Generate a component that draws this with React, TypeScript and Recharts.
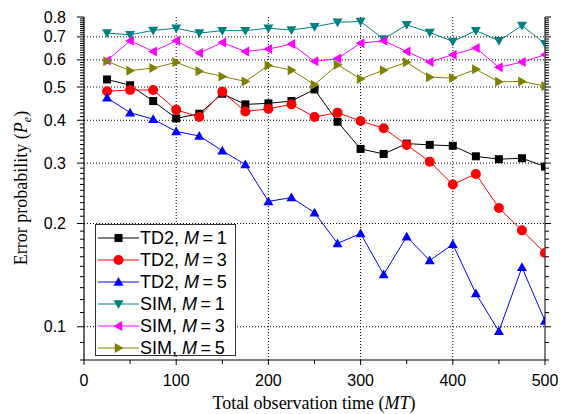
import React from 'react';
import { LineChart, Line, XAxis, YAxis, ReferenceLine, Legend } from 'recharts';

const xs = [25, 50, 75, 100, 125, 150, 175, 200, 225, 250, 275, 300, 325, 350, 375, 400, 425, 450, 475, 500];
const td2M1 = [0.526, 0.506, 0.455, 0.405, 0.418, 0.478, 0.445, 0.448, 0.455, 0.492, 0.396, 0.330, 0.319, 0.342, 0.339, 0.337, 0.314, 0.308, 0.310, 0.293];
const td2M3 = [0.486, 0.490, 0.490, 0.429, 0.409, 0.484, 0.424, 0.432, 0.445, 0.409, 0.421, 0.398, 0.379, 0.339, 0.303, 0.260, 0.279, 0.222, 0.191, 0.164];
const td2M5 = [0.465, 0.421, 0.403, 0.371, 0.360, 0.326, 0.297, 0.232, 0.238, 0.215, 0.175, 0.187, 0.142, 0.183, 0.156, 0.174, 0.125, 0.097, 0.149, 0.104];
const simM1 = [0.718, 0.710, 0.731, 0.742, 0.718, 0.730, 0.730, 0.742, 0.733, 0.749, 0.772, 0.776, 0.690, 0.759, 0.721, 0.679, 0.730, 0.682, 0.755, 0.669];
const simM3 = [0.597, 0.682, 0.635, 0.682, 0.628, 0.674, 0.635, 0.645, 0.667, 0.594, 0.605, 0.671, 0.682, 0.635, 0.591, 0.621, 0.650, 0.571, 0.591, 0.621];
const simM5 = [0.594, 0.558, 0.568, 0.590, 0.556, 0.537, 0.519, 0.578, 0.560, 0.508, 0.581, 0.528, 0.560, 0.590, 0.534, 0.531, 0.563, 0.518, 0.519, 0.503];

const xTicks = [0, 50, 100, 150, 200, 250, 300, 350, 400, 450, 500];
const xMajor = [0, 100, 200, 300, 400, 500];
const xGrid = [100, 200, 300, 400];
const yMajor = [0.1, 0.2, 0.3, 0.4, 0.5, 0.6, 0.7, 0.8];
const yGrid = [0.1, 0.2, 0.3, 0.4, 0.5, 0.6, 0.7];
const yTicks: number[] = [];
for (let i = 8; i <= 80; i++) yTicks.push(i / 100);

type Shape = 'square' | 'circle' | 'up' | 'down' | 'left' | 'right';
const series: { key: string; label: string; m: string; color: string; shape: Shape; values: number[] }[] = [
  { key: 'td1', label: 'TD2, ', m: '1', color: '#000000', shape: 'square', values: td2M1 },
  { key: 'td3', label: 'TD2, ', m: '3', color: '#ff0000', shape: 'circle', values: td2M3 },
  { key: 'td5', label: 'TD2, ', m: '5', color: '#0000ff', shape: 'up', values: td2M5 },
  { key: 'sim1', label: 'SIM, ', m: '1', color: '#008080', shape: 'down', values: simM1 },
  { key: 'sim3', label: 'SIM, ', m: '3', color: '#ff00ff', shape: 'left', values: simM3 },
  { key: 'sim5', label: 'SIM, ', m: '5', color: '#808000', shape: 'right', values: simM5 },
];

const data = xs.map((x, i) => {
  const row: Record<string, number> = { x };
  series.forEach((s) => (row[s.key] = s.values[i]));
  return row;
});

function Marker({ cx, cy, shape, color }: { cx: number; cy: number; shape: Shape; color: string }) {
  if (cx == null || cy == null || isNaN(cx) || isNaN(cy)) return null;
  const s = 5;
  switch (shape) {
    case 'square':
      return <rect x={cx - 4} y={cy - 4} width={8} height={8} fill={color} />;
    case 'circle':
      return <circle cx={cx} cy={cy} r={5} fill={color} />;
    case 'up':
      return <polygon points={`${cx},${cy - s} ${cx - s},${cy + s * 0.75} ${cx + s},${cy + s * 0.75}`} fill={color} />;
    case 'down':
      return <polygon points={`${cx},${cy + s} ${cx - s},${cy - s * 0.75} ${cx + s},${cy - s * 0.75}`} fill={color} />;
    case 'left':
      return <polygon points={`${cx - s},${cy} ${cx + s * 0.75},${cy - s} ${cx + s * 0.75},${cy + s}`} fill={color} />;
    case 'right':
      return <polygon points={`${cx + s},${cy} ${cx - s * 0.75},${cy - s} ${cx - s * 0.75},${cy + s}`} fill={color} />;
  }
  return null;
}

const isMajorY = (v: number) => yMajor.some((m) => Math.abs(m - v) < 1e-9);

const LeftTick = (props: any) => {
  const { x, y, payload } = props;
  const major = isMajorY(payload.value);
  return (
    <g>
      <line x1={x - (major ? 7 : 4)} y1={y} x2={x} y2={y} stroke="#000" strokeWidth={1} />
      {major && (
        <text x={x - 18} y={y} dy={5.5} textAnchor="end" fontFamily="Liberation Sans, Arial, sans-serif" fontSize={16} fill="#000">
          {String(payload.value)}
        </text>
      )}
    </g>
  );
};

const RightTick = (props: any) => {
  const { x, y, payload } = props;
  const major = isMajorY(payload.value);
  return <line x1={x} y1={y} x2={x + (major ? 6 : 4)} y2={y} stroke="#000" strokeWidth={1} />;
};

const BottomTick = (props: any) => {
  const { x, y, payload } = props;
  const major = xMajor.includes(payload.value);
  return (
    <g>
      <line x1={x} y1={y} x2={x} y2={y + (major ? 5 : 4)} stroke="#000" strokeWidth={1} />
      {major && (
        <text x={x} y={y + 26} textAnchor="middle" fontFamily="Liberation Sans, Arial, sans-serif" fontSize={16} fill="#000">
          {String(payload.value)}
        </text>
      )}
    </g>
  );
};

const LegendBox = () => (
  <div
    style={{
      width: 139,
      height: 130,
      border: '1px solid #333',
      background: '#fff',
      boxSizing: 'content-box',
      fontFamily: 'Liberation Sans, Arial, sans-serif',
      fontSize: 18,
      color: '#000',
    }}
  >
    {series.map((s) => (
      <div key={s.key} style={{ display: 'flex', alignItems: 'center', height: 22, marginTop: s.key === 'td1' ? 2 : 0 }}>
        <svg width={44} height={22} style={{ display: 'block' }}>
          <line x1={2} y1={11} x2={43} y2={11} stroke={s.color} strokeWidth={1} />
          <Marker cx={22.5} cy={11} shape={s.shape} color={s.color} />
        </svg>
        <span style={{ whiteSpace: 'nowrap', lineHeight: '22px' }}>
          {s.label}
          <i>M</i>
          {'\u2009=\u2009'}
          {s.m}
        </span>
      </div>
    ))}
  </div>
);

const YTitle = () => (
  <text
    transform="translate(27,188) rotate(-90)"
    textAnchor="middle"
    fontFamily="Liberation Serif, Times New Roman, serif"
    fontSize={18}
    fill="#000"
  >
    Error probability (<tspan fontStyle="italic">P</tspan>
    <tspan fontStyle="italic" fontSize={12} dy={4}>e</tspan>
    <tspan dy={-4}>)</tspan>
  </text>
);

const XTitle = () => (
  <text x={314} y={409} textAnchor="middle" fontFamily="Liberation Serif, Times New Roman, serif" fontSize={18} fill="#000">
    Total observation time (<tspan fontStyle="italic">MT</tspan>)
  </text>
);

export default function App() {
  return (
    <div style={{ position: 'absolute', left: 0, top: 0, width: 565, height: 414, background: '#fff' }}>
      <LineChart width={565} height={414} data={data} margin={{ top: 17, right: 10, bottom: 24, left: 24 }}>
        <XAxis
          dataKey="x"
          type="number"
          domain={[0, 500]}
          ticks={xTicks}
          interval={0}
          allowDataOverflow
          tickSize={0}
          tickMargin={0}
          tickLine={false}
          tick={<BottomTick />}
          axisLine={{ stroke: '#000', strokeWidth: 1 }}
          height={30}
          label={<XTitle />}
        />
        <XAxis
          xAxisId="top"
          dataKey="x"
          type="number"
          orientation="top"
          domain={[0, 500]}
          allowDataOverflow
          tick={false}
          tickLine={false}
          axisLine={{ stroke: '#000', strokeWidth: 1 }}
          height={0}
        />
        <YAxis
          type="number"
          scale="log"
          domain={[0.08, 0.8]}
          allowDataOverflow
          ticks={yTicks}
          interval={0}
          tickSize={0}
          tickMargin={0}
          tickLine={false}
          tick={<LeftTick />}
          axisLine={{ stroke: '#000', strokeWidth: 1.2 }}
          width={60}
          label={<YTitle />}
        />
        <YAxis
          yAxisId="right"
          orientation="right"
          type="number"
          scale="log"
          domain={[0.08, 0.8]}
          allowDataOverflow
          ticks={yTicks}
          interval={0}
          tickSize={0}
          tickMargin={0}
          tickLine={false}
          tick={<RightTick />}
          axisLine={{ stroke: '#000', strokeWidth: 1 }}
          width={10}
        />
        {yGrid.map((v) => (
          <ReferenceLine key={'y' + v} y={v} stroke="#000" strokeWidth={1} strokeDasharray="1 2" />
        ))}
        {xGrid.map((v) => (
          <ReferenceLine key={'x' + v} x={v} stroke="#000" strokeWidth={1} strokeDasharray="1 2" />
        ))}
        {series.map((s) => (
          <Line
            key={s.key}
            dataKey={s.key}
            name={s.key}
            stroke={s.color}
            strokeWidth={1}
            isAnimationActive={false}
            dot={(p: any) => <Marker key={s.key + p.index} cx={p.cx} cy={p.cy} shape={s.shape} color={s.color} />}
            activeDot={false}
          />
        ))}
        <Legend
          layout="horizontal"
          verticalAlign="middle"
          align="center"
          content={<LegendBox />}
          wrapperStyle={{ left: 95, top: 224, width: 141, height: 132 }}
        />
      </LineChart>
    </div>
  );
}
